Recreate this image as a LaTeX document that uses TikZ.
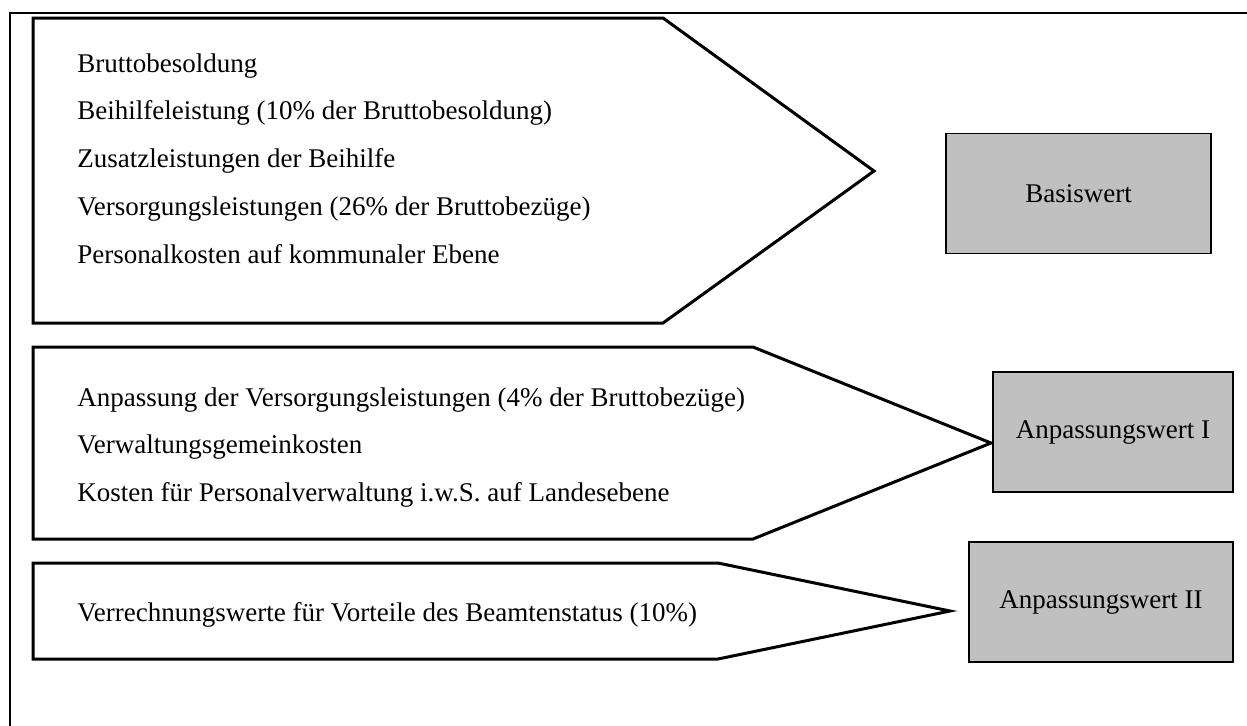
\documentclass[tikz,border=0pt]{standalone}
\usepackage{fontspec}
\setmainfont{Liberation Serif}
\usepackage{xcolor}
\usepackage{tikz}
\definecolor{wertgrau}{HTML}{C0C0C0}

\begin{document}
\begin{tikzpicture}[x=0.5pt,y=-0.5pt,
		font=\fontsize{13.5pt}{15pt}\selectfont,
		rahmen/.style={line width=1pt},
		pfeil/.style={line width=1.5pt,line join=miter},
		zeile/.style={anchor=base west,inner sep=0pt},
		wert/.style={draw,line width=0.9pt,fill=wertgrau,inner sep=0pt,minimum height=60pt}]
		\useasboundingbox (0,0) rectangle (1247,725);
		\clip (0,0) rectangle (1247,725);
		% 绘制外框
		\draw[rahmen] (10,13) rectangle (1262,742);
		% 绘制箭头形状
		\draw[pfeil] (33,18) -- (663,18) -- (874,171) -- (663,323) -- (33,323) -- cycle;
		\draw[pfeil] (33,347) -- (753,347) -- (991,443) -- (753,539) -- (33,539) -- cycle;
		\draw[pfeil] (33,563) -- (718,563) -- (950,611) -- (718,659) -- (33,659) -- cycle;
		% 绘制文字
		\foreach \t [count=\i] in {{Bruttobesoldung},
				{Beihilfeleistung (10\% der Bruttobesoldung)},
				{Zusatzleistungen der Beihilfe},
				{Versorgungsleistungen (26\% der Bruttobezüge)},
				{Personalkosten auf kommunaler Ebene}}
			\node[zeile] (basis\i) at (77,{72+47.8*(\i-1)}) {\t};
		\foreach \t [count=\i] in {{Anpassung der Versorgungsleistungen (4\% der Bruttobezüge)},
				{Verwaltungsgemeinkosten},
				{Kosten für Personalverwaltung i.w.S. auf Landesebene}}
			\node[zeile] (anpI\i) at (77,{406+47.5*(\i-1)}) {\t};
		\node[zeile] (anpII1) at (77,621) {Verrechnungswerte für Vorteile des Beamtenstatus (10\%)};
		% 绘制矩形
		\node[wert,minimum width=132.5pt] (basiswert) at (1078.5,193.5) {Basiswert};
		\node[wert,minimum width=120pt] (anpwertI) at (1113,432) {Anpassungswert I};
		\node[wert,minimum width=132pt] (anpwertII) at (1101,602) {Anpassungswert II};
	\end{tikzpicture}
\end{document}
